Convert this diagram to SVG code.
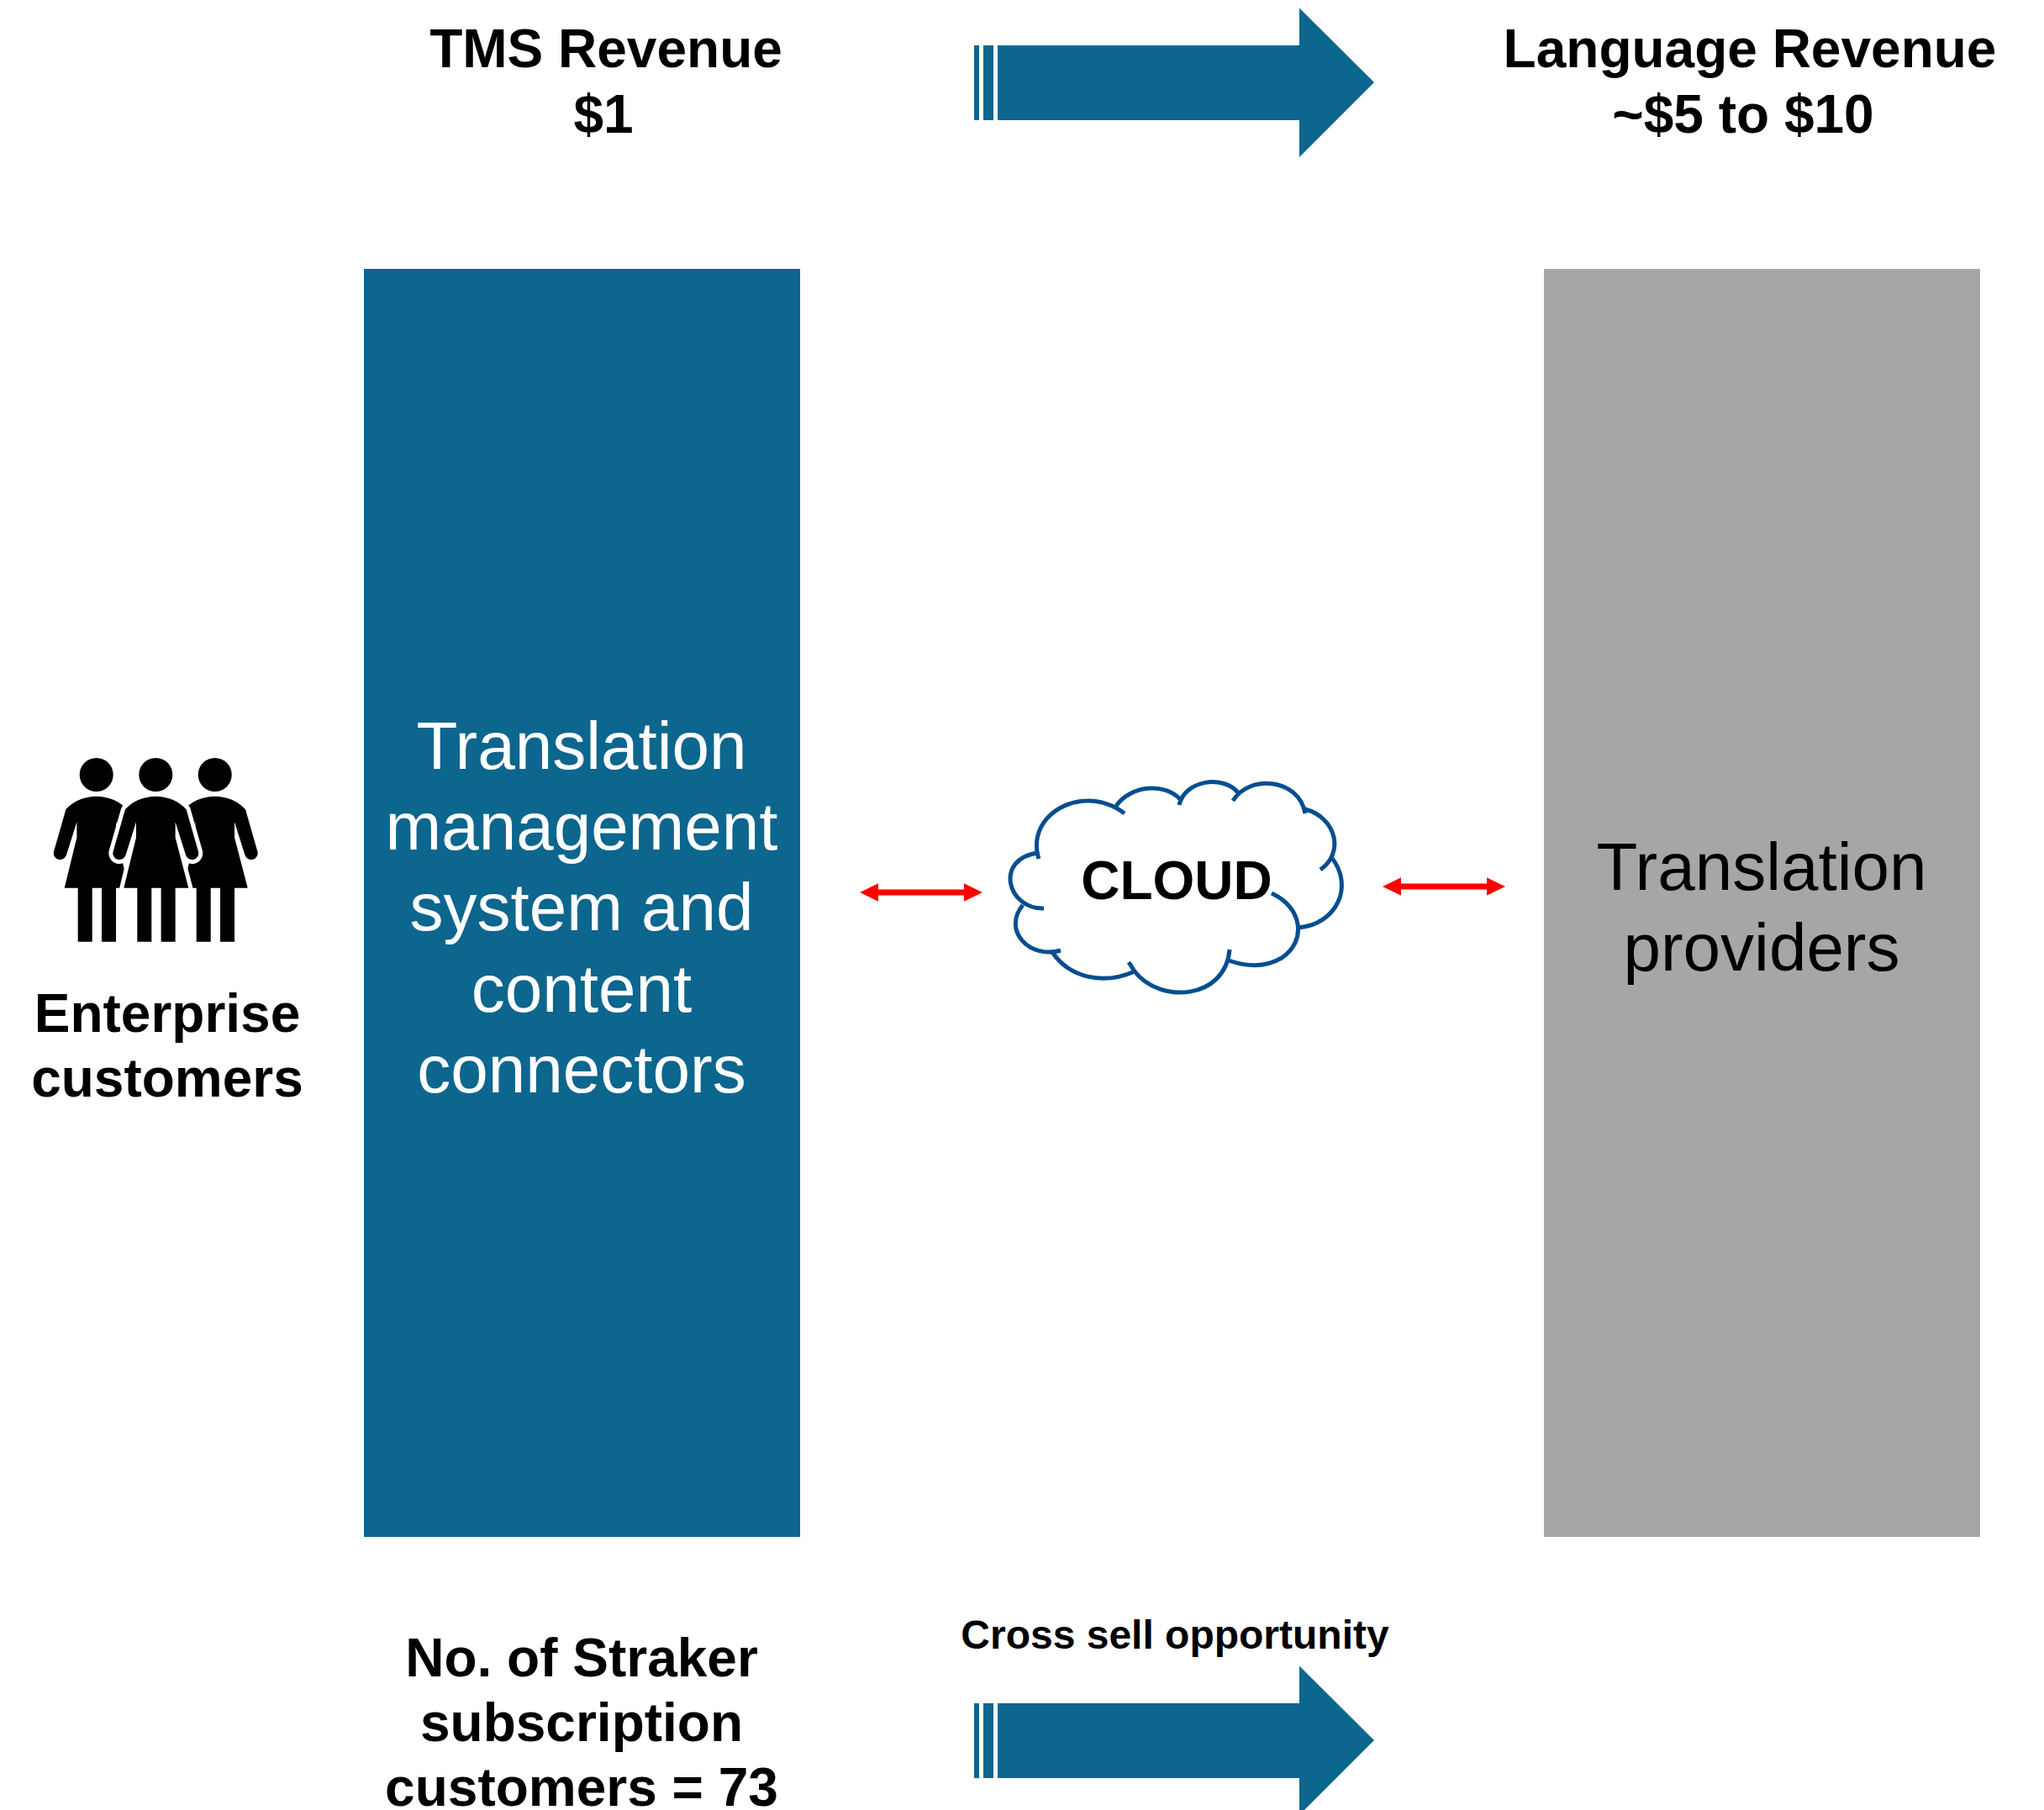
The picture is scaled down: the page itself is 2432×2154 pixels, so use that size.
<svg xmlns="http://www.w3.org/2000/svg" width="2432" height="2154" viewBox="0 0 2432 2154">
<style>
text{font-family:"Liberation Sans",Arial,sans-serif;text-anchor:middle;fill:#000}
.b{font-weight:700;font-size:64px}
.r{font-size:80px}
.w{fill:#fff}
.teal{fill:#0D668E}
.cl{fill:none;stroke:#034E90;stroke-width:5}
.rd{stroke:#F00;stroke-width:7;fill:none;marker-start:url(#rh);marker-end:url(#rh)}
</style>
<defs>
<marker id="rh" markerUnits="userSpaceOnUse" markerWidth="24" markerHeight="24" refX="0" refY="12" orient="auto-start-reverse" viewBox="0 0 24 24"><path d="M0,1.3L22,12L0,22.7Z" fill="#F00"/></marker>
<g id="bigarrow" class="teal"><rect x="1159" y="54" width="6" height="89"/><rect x="1170" y="54" width="12" height="89"/><path d="M1187,54H1546V9.5L1635,98L1546,187V143H1187Z"/></g>
<path id="woman" d="M0,203C45,203 85,222 109,250L152,400A23,23 0 0 1 107,412L70,295V350L117,530H70V722H19V530H-15V722H-66V530H-114L-70,350V295L-107,412A23,23 0 0 1 -152,400L-109,250C-85,222 -45,203 0,203Z"/>
</defs>
<g id="tms-revenue"><text class="b" x="721" y="80">TMS Revenue</text><text class="b" x="718" y="158">$1</text></g>
<g id="top-arrow"><use href="#bigarrow"/></g>
<g id="language-revenue"><text class="b" x="2082" y="80">Language Revenue</text><text class="b" x="2074" y="158">~$5 to $10</text></g>
<g id="tms-box"><rect x="433" y="320" width="519" height="1509" class="teal"/>
<text class="r w" x="692" y="915">Translation</text><text class="r w" x="692" y="1011">management</text><text class="r w" x="692" y="1107">system and</text><text class="r w" x="692" y="1204">content</text><text class="r w" x="692" y="1300">connectors</text></g>
<g id="providers-box"><rect x="1837" y="320" width="519" height="1509" fill="#A6A6A6"/>
<text class="r" x="2096" y="1059">Translation</text><text class="r" x="2096" y="1155">providers</text></g>
<g id="customers">
<g transform="translate(114.7,880) scale(.3333)"><use href="#woman"/></g>
<g transform="translate(255.7,880) scale(.3333)"><use href="#woman"/></g>
<g transform="translate(185.3,880) scale(.3333)"><use href="#woman" stroke="#fff" stroke-width="30" paint-order="stroke"/></g>
<circle cx="114.7" cy="922" r="20"/><circle cx="185.3" cy="922" r="20"/><circle cx="255.7" cy="922" r="20"/>
<text class="b" x="199" y="1228">Enterprise</text><text class="b" x="199" y="1305">customers</text></g>
<g id="cloud">
<path class="cl" d="M1236,1022C1224,985 1255,953 1295,953C1312,953 1326,959 1338,968"/>
<path class="cl" d="M1328,959C1345,935 1385,930 1405,952"/>
<path class="cl" d="M1403,958C1410,928 1455,922 1473,943"/>
<path class="cl" d="M1467,953C1485,922 1545,925 1553,968"/>
<path class="cl" d="M1553,963C1590,973 1600,1015 1571,1035"/>
<path class="cl" d="M1584,1020C1612,1055 1590,1100 1545,1104"/>
<path class="cl" d="M1513,1063C1550,1080 1555,1120 1525,1140C1505,1152 1482,1150 1462,1143"/>
<path class="cl" d="M1463,1130C1458,1190 1380,1195 1350,1156L1343,1145"/>
<path class="cl" d="M1350,1156C1312,1173 1272,1163 1252,1133"/>
<path class="cl" d="M1262,1131C1225,1142 1192,1107 1217,1077"/>
<path class="cl" d="M1242,1081C1198,1082 1183,1022 1235,1015"/>
<text class="b" x="1400" y="1070">CLOUD</text></g>
<g id="subscription"><text class="b" x="692" y="1995">No. of Straker</text><text class="b" x="692" y="2072">subscription</text><text class="b" x="692" y="2149">customers = 73</text></g>
<g id="cross-sell"><text x="1398" y="1962" font-weight="700" font-size="48">Cross sell opportunity</text><use href="#bigarrow" y="1973"/></g>
<g id="connectors"><line class="rd" x1="1045" y1="1062" x2="1147" y2="1062"/><line class="rd" x1="1667" y1="1055" x2="1769" y2="1055"/></g>
</svg>
